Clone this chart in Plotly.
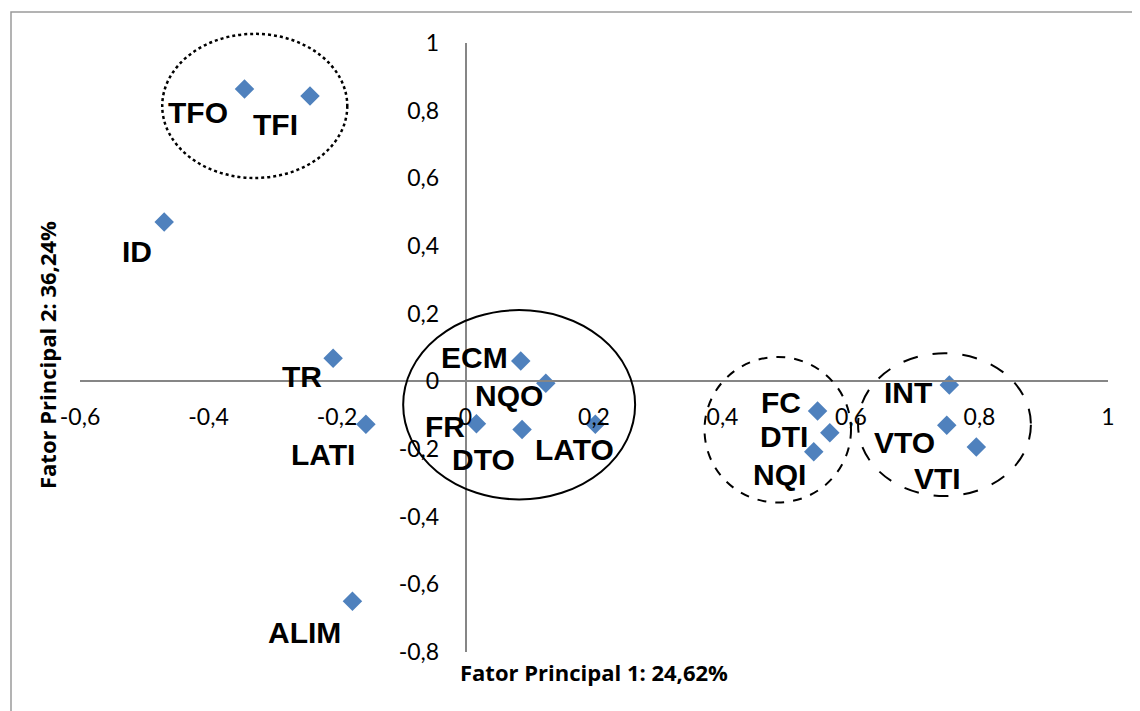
import plotly.graph_objects as go

# ---- data ----
labels = ["TFO", "TFI", "ID", "TR", "LATI", "ALIM", "ECM", "NQO", "FR", "DTO",
          "LATO", "FC", "DTI", "NQI", "INT", "VTO", "VTI"]
fator1 = [-0.344, -0.242, -0.469, -0.206, -0.155, -0.176, 0.086, 0.125, 0.017, 0.088,
          0.202, 0.548, 0.567, 0.542, 0.753, 0.749, 0.795]
fator2 = [0.864, 0.843, 0.471, 0.068, -0.127, -0.650, 0.060, -0.006, -0.125, -0.142,
          -0.127, -0.088, -0.152, -0.208, -0.011, -0.130, -0.194]

x_tickvals = [-0.6, -0.4, -0.2, 0, 0.2, 0.4, 0.6, 0.8, 1]
x_ticktext = ["-0,6", "-0,4", "-0,2", "0", "0,2", "0,4", "0,6", "0,8", "1"]
y_tickvals = [-0.8, -0.6, -0.4, -0.2, 0, 0.2, 0.4, 0.6, 0.8, 1]
y_ticktext = ["-0,8", "-0,6", "-0,4", "-0,2", "0", "0,2", "0,4", "0,6", "0,8", "1"]

x_title = "Fator Principal 1: 24,62%"
y_title = "Fator Principal 2: 36,24%"

# ---- styling / layout (positions) ----
XR = [-0.6, 1.0]
YR = [-0.8, 1.0]
OFF = 8                      # page body margin
W, H = 1140 - OFF, 711 - OFF
ML, MR, MT, MB = 72, 32, 35, 59
PW = W - ML - MR
PH = H - MT - MB

def paper_x(px):             # page pixel -> paper fraction
    return (px - OFF - ML) / PW

def paper_y(py):
    return (H - MB - (py - OFF)) / PH

def dx_to_paper(v):          # data -> paper fraction
    return (v - XR[0]) / (XR[1] - XR[0])

def dy_to_paper(v):
    return (v - YR[0]) / (YR[1] - YR[0])

# label offsets in pixels (dx right, dy down)
label_offsets = {
    "TFO": (-46, 23), "TFI": (-35, 28), "ID": (-27, 30), "TR": (-31, 18),
    "LATI": (-43, 30), "ALIM": (-48, 31), "ECM": (-46, -4), "NQO": (-37, 12),
    "FR": (-31, 3), "DTO": (-39, 30), "LATO": (-21, 25), "FC": (-37, -9),
    "DTI": (-46, 4), "NQI": (-34, 23), "INT": (-41, 7), "VTO": (-42, 17),
    "VTI": (-39, 32),
}

# group ellipses (data units) : x0, x1, y0, y1, dash, width
ellipses = [
    (-0.472, -0.184, 0.601, 1.027, "dot", 2.5),
    (-0.097, 0.264, -0.349, 0.2105, "solid", 2),
    (0.372, 0.600, -0.358, 0.072, "dash", 2),
    (0.611, 0.880, -0.339, 0.083, "longdash", 2),
]

fig = go.Figure()
fig.add_trace(go.Scatter(
    x=fator1, y=fator2, mode="markers",
    marker=dict(symbol="diamond", size=15, color="#4F81BD"),
    hoverinfo="text", text=labels, showlegend=False,
))

annotations = []
for lab, xv, yv in zip(labels, fator1, fator2):
    dx, dy = label_offsets[lab]
    annotations.append(dict(
        x=xv, y=yv, xref="x", yref="y", text="<b>" + lab + "</b>", showarrow=False,
        xshift=dx, yshift=-dy,
        font=dict(family="Liberation Sans, Arial", size=30, color="black"),
    ))

annotations.append(dict(
    x=paper_x(594), y=paper_y(672),
    xref="paper", yref="paper", text="<b>" + x_title + "</b>", showarrow=False,
    font=dict(family="Open Sans", size=22, color="black"),
    xanchor="center", yanchor="middle",
))
annotations.append(dict(
    x=paper_x(47), y=paper_y(355),
    xref="paper", yref="paper", text="<b>" + y_title + "</b>", showarrow=False,
    textangle=-90,
    font=dict(family="Open Sans", size=22, color="black"),
    xanchor="center", yanchor="middle",
))

shapes = []
for x0, x1, y0, y1, dash, w in ellipses:
    shapes.append(dict(
        type="circle", xref="paper", yref="paper",
        x0=dx_to_paper(x0), x1=dx_to_paper(x1), y0=dy_to_paper(y0), y1=dy_to_paper(y1),
        line=dict(color="black", width=w, dash=dash),
    ))
# outer chart border
shapes.append(dict(
    type="rect", xref="paper", yref="paper",
    x0=paper_x(11), x1=paper_x(1160),
    y0=paper_y(730), y1=paper_y(12),
    line=dict(color="#9a9a9a", width=1.5), fillcolor="rgba(0,0,0,0)",
))

fig.update_layout(
    width=W, height=H,
    margin=dict(l=ML, r=MR, t=MT, b=MB),
    paper_bgcolor="white", plot_bgcolor="white",
    annotations=annotations, shapes=shapes,
    xaxis=dict(
        range=XR, anchor="free", position=dy_to_paper(0),
        showgrid=False, zeroline=False, showline=True, linecolor="#868686", linewidth=1.5,
        tickvals=x_tickvals, ticktext=x_ticktext, ticks="",
        ticklabelstandoff=15,
        tickfont=dict(family="Lato", size=23, color="black"),
    ),
    yaxis=dict(
        range=YR, anchor="free", position=dx_to_paper(0),
        showgrid=False, zeroline=False, showline=True, linecolor="#868686", linewidth=1.5,
        tickvals=y_tickvals, ticktext=y_ticktext, ticks="",
        ticklabelstandoff=21,
        tickfont=dict(family="Lato", size=23, color="black"),
    ),
)

fig.write_html("out.html")
